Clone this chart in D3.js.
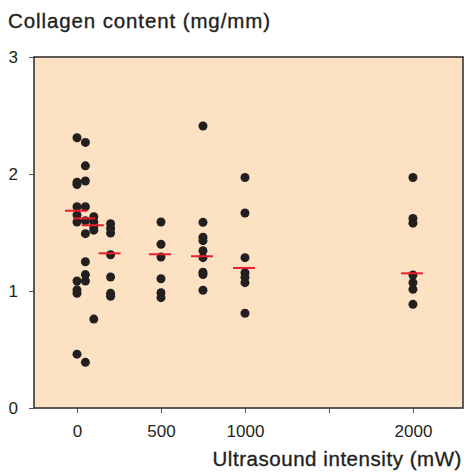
<!DOCTYPE html>
<html>
<head>
<meta charset="utf-8">
<script src="https://cdn.jsdelivr.net/npm/d3@7"></script>
<style>
  html, body { margin: 0; padding: 0; background: #ffffff; }
  svg { display: block; }
  text { font-family: "Liberation Sans", Arial, Helvetica, sans-serif; fill: #231F20; }
</style>
</head>
<body>
<svg id="chart" width="467" height="472"></svg>
<script>
// ---- data ----
const intensities = [0, 50, 100, 200, 500, 750, 1000, 2000];
const group0    = [2.31, 1.93, 1.91, 1.72, 1.65, 1.59, 1.085, 1.01, 0.98, 0.46];
const group50   = [2.27, 2.07, 1.94, 1.72, 1.60, 1.49, 1.25, 1.14, 1.085, 0.39];
const group100  = [1.635, 1.59, 1.55, 1.52, 0.76];
const group200  = [1.575, 1.535, 1.495, 1.31, 1.12, 0.98, 0.955];
const group500  = [1.59, 1.40, 1.29, 1.105, 0.985, 0.943];
const group750  = [2.41, 1.587, 1.46, 1.43, 1.345, 1.285, 1.16, 1.14, 1.006];
const group1000 = [1.97, 1.667, 1.285, 1.157, 1.117, 1.071, 0.81];
const group2000 = [1.97, 1.62, 1.58, 1.137, 1.071, 1.014, 0.886];
const groupValues = [group0, group50, group100, group200, group500, group750, group1000, group2000];
const medians = [1.686, 1.621, 1.562, 1.322, 1.314, 1.297, 1.197, 1.151];
const xTickValues = [0, 500, 1000, 1500, 2000];
const xTickLabels = ["0", "500", "1000", "", "2000"];
const yTickValues = [0, 1, 2, 3];
const yTickLabels = ["0", "1", "2", "3"];
const yTitle = "Collagen content (mg/mm)";
const xTitle = "Ultrasound intensity (mW)";

// ---- layout ----
const svg = d3.select("#chart");
const plot = { left: 34, right: 463, top: 57, bottom: 408 };
const x = d3.scaleLinear().domain([-256, 2298]).range([plot.left, plot.right]);
const y = d3.scaleLinear().domain([0, 3]).range([plot.bottom, plot.top]);
const ink = "#231F20";

// background panel
svg.append("rect")
  .attr("x", plot.left).attr("y", plot.top)
  .attr("width", plot.right - plot.left).attr("height", plot.bottom - plot.top)
  .attr("fill", "#FDE1C3");

// x axis
const xAxis = d3.axisBottom(x)
  .tickValues(xTickValues)
  .tickFormat((d, i) => xTickLabels[i])
  .tickSizeInner(5).tickSizeOuter(0).tickPadding(12);
const gx = svg.append("g").attr("transform", `translate(0,${plot.bottom})`).call(xAxis);
gx.select(".domain").remove();
gx.selectAll(".tick line").attr("stroke", "#555").attr("stroke-width", 1);
gx.selectAll(".tick text").attr("font-size", 17).attr("fill", ink)
  .attr("font-family", "'Liberation Sans', Arial, sans-serif");

// y axis
const yAxis = d3.axisLeft(y)
  .tickValues(yTickValues)
  .tickFormat((d, i) => yTickLabels[i])
  .tickSizeInner(5).tickSizeOuter(0).tickPadding(11);
const gy = svg.append("g").attr("transform", `translate(${plot.left},0)`).call(yAxis);
gy.select(".domain").remove();
gy.selectAll(".tick line").attr("stroke", "#555").attr("stroke-width", 1);
gy.selectAll(".tick text").attr("font-size", 17).attr("fill", ink)
  .attr("font-family", "'Liberation Sans', Arial, sans-serif");

// frame
svg.append("rect")
  .attr("x", plot.left).attr("y", plot.top)
  .attr("width", plot.right - plot.left).attr("height", plot.bottom - plot.top)
  .attr("fill", "none").attr("stroke", "#3a3536").attr("stroke-width", 1.6);

// points
const points = [];
intensities.forEach((mw, i) => groupValues[i].forEach(v => points.push({ mw, v })));
svg.append("g").selectAll("circle").data(points).join("circle")
  .attr("cx", d => x(d.mw))
  .attr("cy", d => y(d.v))
  .attr("r", 4.5)
  .attr("fill", ink);

// median bars
const halfBar = 11;
svg.append("g").selectAll("line").data(intensities.map((mw, i) => ({ mw, m: medians[i] })))
  .join("line")
  .attr("x1", d => x(d.mw) - halfBar - 1)
  .attr("x2", d => x(d.mw) + halfBar - 1)
  .attr("y1", d => y(d.m)).attr("y2", d => y(d.m))
  .attr("stroke", "#E8202A").attr("stroke-width", 2);

// titles
svg.append("text")
  .attr("x", 8).attr("y", 28)
  .attr("font-size", 20.5)
  .attr("textLength", 262).attr("lengthAdjust", "spacing")
  .attr("stroke", ink).attr("stroke-width", 0.35)
  .text(yTitle);

svg.append("text")
  .attr("x", 462).attr("y", 466)
  .attr("text-anchor", "end")
  .attr("font-size", 20.5)
  .attr("stroke", ink).attr("stroke-width", 0.35)
  .attr("letter-spacing", "0.55px")
  .text(xTitle);
</script>
</body>
</html>
